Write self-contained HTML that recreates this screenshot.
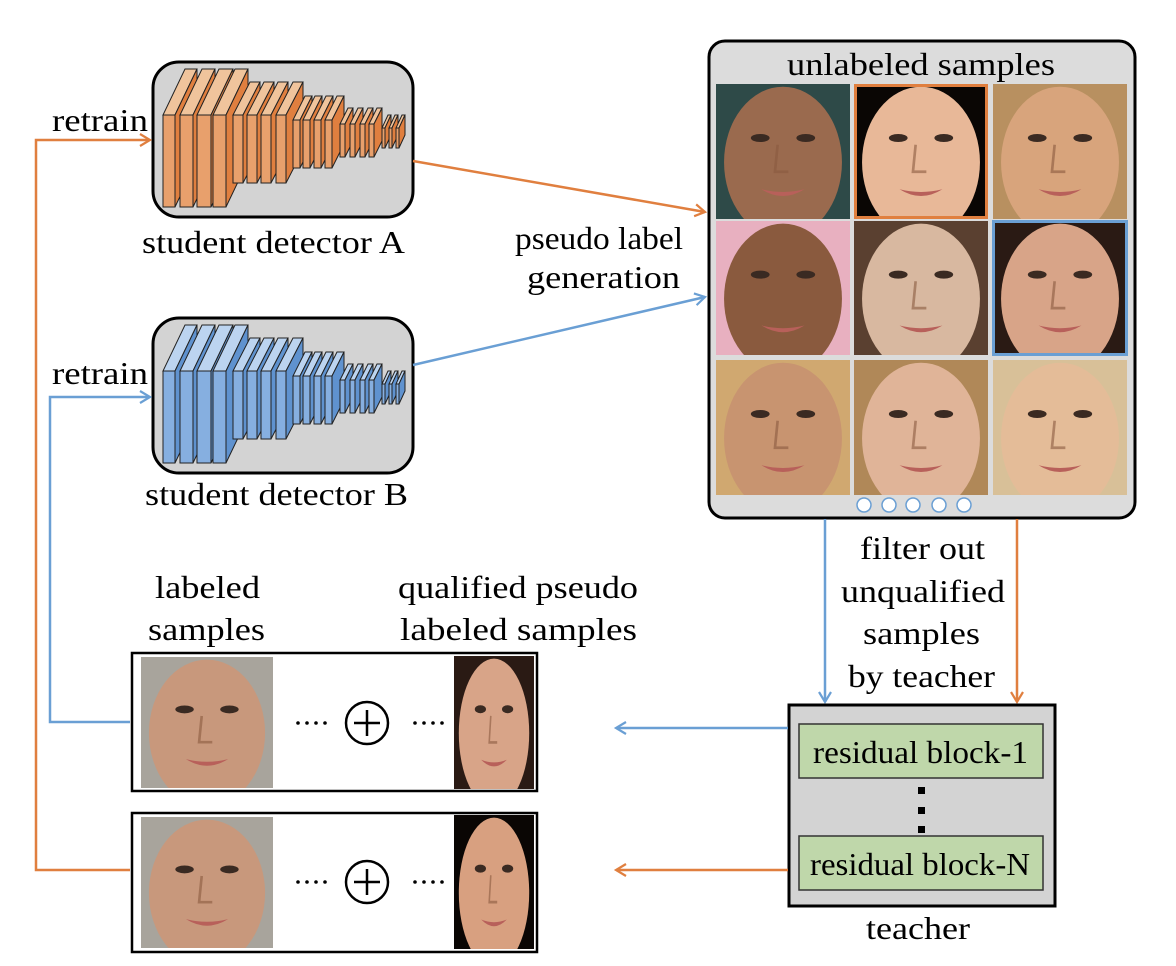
<!DOCTYPE html>
<html><head><meta charset="utf-8"><style>
body{margin:0;background:#fff}
svg{display:block}
.fr{fill:var(--fr);stroke:#222;stroke-width:1}
.tp{fill:var(--tp);stroke:#222;stroke-width:1}
.sd{fill:var(--sd);stroke:#222;stroke-width:1}
</style></head><body>
<svg width="1176" height="966" viewBox="0 0 1176 966" xmlns="http://www.w3.org/2000/svg" font-family="'Liberation Serif', 'DejaVu Serif', serif" font-size="32">
<defs>
<marker id="ao" markerWidth="14" markerHeight="14" refX="11" refY="7" orient="auto" markerUnits="userSpaceOnUse"><path d="M1,1 L11,7 L1,13" fill="none" stroke="#e07f3f" stroke-width="2.2"/></marker>
<marker id="ab" markerWidth="14" markerHeight="14" refX="11" refY="7" orient="auto" markerUnits="userSpaceOnUse"><path d="M1,1 L11,7 L1,13" fill="none" stroke="#6a9fd4" stroke-width="2.2"/></marker>
<symbol id="face" viewBox="0 0 100 100" preserveAspectRatio="none">
<rect width="100" height="100" fill="var(--bg)"/>
<ellipse cx="50" cy="58" rx="44" ry="56" fill="var(--sk)"/>
<ellipse cx="33" cy="40" rx="7" ry="3" fill="#3a2a22"/>
<ellipse cx="67" cy="40" rx="7" ry="3" fill="#3a2a22"/>
<path d="M46,45 L44,65 L54,65" fill="none" stroke="#8a5a40" stroke-width="2" opacity=".6"/>
<path d="M34,78 Q50,88 66,78 Q50,82 34,78Z" fill="#b8605a"/>
</symbol>
<g id="net">
<g><polygon class="tp" points="163,115 175,115 197,69 185,69"/><polygon class="sd" points="175,115 197,69 197,161 175,207"/><rect class="fr" x="163" y="115" width="12" height="92"/></g>
<g><polygon class="tp" points="180,115 193,115 215,69 202,69"/><polygon class="sd" points="193,115 215,69 215,161 193,207"/><rect class="fr" x="180" y="115" width="13" height="92"/></g>
<g><polygon class="tp" points="197,115 211,115 233,69 219,69"/><polygon class="sd" points="211,115 233,69 233,161 211,207"/><rect class="fr" x="197" y="115" width="14" height="92"/></g>
<g><polygon class="tp" points="213,115 226,115 248,69 235,69"/><polygon class="sd" points="226,115 248,69 248,161 226,207"/><rect class="fr" x="213" y="115" width="13" height="92"/></g>
<g><polygon class="tp" points="233,115 243,115 260,82 250,82"/><polygon class="sd" points="243,115 260,82 260,150 243,183"/><rect class="fr" x="233" y="115" width="10" height="68"/></g>
<g><polygon class="tp" points="247,115 257,115 274,82 264,82"/><polygon class="sd" points="257,115 274,82 274,150 257,183"/><rect class="fr" x="247" y="115" width="10" height="68"/></g>
<g><polygon class="tp" points="261,115 271,115 288,82 278,82"/><polygon class="sd" points="271,115 288,82 288,150 271,183"/><rect class="fr" x="261" y="115" width="10" height="68"/></g>
<g><polygon class="tp" points="276,115 286,115 303,82 293,82"/><polygon class="sd" points="286,115 303,82 303,150 286,183"/><rect class="fr" x="276" y="115" width="10" height="68"/></g>
<g><polygon class="tp" points="293,120 300,120 312,96 305,96"/><polygon class="sd" points="300,120 312,96 312,144 300,168"/><rect class="fr" x="293" y="120" width="7" height="48"/></g>
<g><polygon class="tp" points="303,120 310,120 322,96 315,96"/><polygon class="sd" points="310,120 322,96 322,144 310,168"/><rect class="fr" x="303" y="120" width="7" height="48"/></g>
<g><polygon class="tp" points="314,120 321,120 333,96 326,96"/><polygon class="sd" points="321,120 333,96 333,144 321,168"/><rect class="fr" x="314" y="120" width="7" height="48"/></g>
<g><polygon class="tp" points="325,120 332,120 344,96 337,96"/><polygon class="sd" points="332,120 344,96 344,144 332,168"/><rect class="fr" x="325" y="120" width="7" height="48"/></g>
<g><polygon class="tp" points="340,124 345,124 353,108 348,108"/><polygon class="sd" points="345,124 353,108 353,141 345,157"/><rect class="fr" x="340" y="124" width="5" height="33"/></g>
<g><polygon class="tp" points="350,124 355,124 363,108 358,108"/><polygon class="sd" points="355,124 363,108 363,141 355,157"/><rect class="fr" x="350" y="124" width="5" height="33"/></g>
<g><polygon class="tp" points="360,124 365,124 373,108 368,108"/><polygon class="sd" points="365,124 373,108 373,141 365,157"/><rect class="fr" x="360" y="124" width="5" height="33"/></g>
<g><polygon class="tp" points="369,124 374,124 382,108 377,108"/><polygon class="sd" points="374,124 382,108 382,141 374,157"/><rect class="fr" x="369" y="124" width="5" height="33"/></g>
<g><polygon class="tp" points="382,128 385,128 391,115 388,115"/><polygon class="sd" points="385,128 391,115 391,135 385,148"/><rect class="fr" x="382" y="128" width="3" height="20"/></g>
<g><polygon class="tp" points="389,128 392,128 398,115 395,115"/><polygon class="sd" points="392,128 398,115 398,135 392,148"/><rect class="fr" x="389" y="128" width="3" height="20"/></g>
<g><polygon class="tp" points="396,128 399,128 405,115 402,115"/><polygon class="sd" points="399,128 405,115 405,135 399,148"/><rect class="fr" x="396" y="128" width="3" height="20"/></g>
</g>
</defs>

<rect x="153" y="62" width="260" height="155" rx="26" fill="#d3d3d3" stroke="#000" stroke-width="3"/>
<g style="--fr:#e8a06c;--tp:#f0c49c;--sd:#e07f3f"><use href="#net"/></g>
<text x="142" y="253" textLength="263" lengthAdjust="spacingAndGlyphs">student detector A</text>
<text x="52" y="131" textLength="96" lengthAdjust="spacingAndGlyphs">retrain</text>

<rect x="153" y="318" width="260" height="155" rx="26" fill="#d3d3d3" stroke="#000" stroke-width="3"/>
<g style="--fr:#86afe0;--tp:#bcd4f0;--sd:#5f92cf"><use href="#net" y="256"/></g>
<text x="145" y="505" textLength="263" lengthAdjust="spacingAndGlyphs">student detector B</text>
<text x="52" y="384" textLength="96" lengthAdjust="spacingAndGlyphs">retrain</text>

<polyline points="130,870 36,870 36,140 150,140" fill="none" stroke="#e07f3f" stroke-width="2.5" marker-end="url(#ao)"/>
<polyline points="130,722 50,722 50,397 150,397" fill="none" stroke="#6a9fd4" stroke-width="2.5" marker-end="url(#ab)"/>

<line x1="413" y1="161" x2="705" y2="212" stroke="#e07f3f" stroke-width="2.5" marker-end="url(#ao)"/>
<line x1="413" y1="365" x2="705" y2="297" stroke="#6a9fd4" stroke-width="2.5" marker-end="url(#ab)"/>
<text x="515" y="249" textLength="168" lengthAdjust="spacingAndGlyphs">pseudo label</text>
<text x="527" y="288" textLength="153" lengthAdjust="spacingAndGlyphs">generation</text>

<rect x="709" y="41" width="426" height="477" rx="16" fill="#dcdcdc" stroke="#000" stroke-width="3"/>
<text x="787" y="75" textLength="268" lengthAdjust="spacingAndGlyphs">unlabeled samples</text>
<use href="#face" x="716" y="84" width="134" height="135" style="--bg:#2e4a48;--sk:#9a6a4e"/>
<use href="#face" x="854" y="84" width="134" height="135" style="--bg:#0a0604;--sk:#e8b898"/>
<rect x="855.5" y="85.5" width="131" height="132" fill="none" stroke="#e07f3f" stroke-width="3"/>
<use href="#face" x="993" y="84" width="134" height="135" style="--bg:#b89060;--sk:#d8a47c"/>
<use href="#face" x="716" y="221" width="134" height="134" style="--bg:#e8b0c0;--sk:#8a5a3e"/>
<use href="#face" x="854" y="221" width="134" height="134" style="--bg:#5a4030;--sk:#d8b8a0"/>
<use href="#face" x="993" y="221" width="134" height="134" style="--bg:#2a1a14;--sk:#d8a488"/>
<rect x="993.5" y="221.5" width="133" height="133" fill="none" stroke="#6a9fd4" stroke-width="3"/>
<use href="#face" x="716" y="360" width="134" height="135" style="--bg:#d0a870;--sk:#c89470"/>
<use href="#face" x="854" y="360" width="134" height="135" style="--bg:#b08858;--sk:#e0b498"/>
<use href="#face" x="993" y="360" width="134" height="135" style="--bg:#d8c098;--sk:#e4bc98"/>
<g fill="#fff" stroke="#6a9fd4" stroke-width="1.5">
<circle cx="864" cy="505" r="7"/><circle cx="889" cy="505" r="7"/><circle cx="913" cy="505" r="7"/><circle cx="939" cy="505" r="7"/><circle cx="964" cy="505" r="7"/>
</g>

<line x1="825" y1="519" x2="825" y2="702" stroke="#6a9fd4" stroke-width="2.5" marker-end="url(#ab)"/>
<line x1="1017" y1="519" x2="1017" y2="702" stroke="#e07f3f" stroke-width="2.5" marker-end="url(#ao)"/>
<text x="860" y="559" textLength="125" lengthAdjust="spacingAndGlyphs">filter out</text>
<text x="841" y="602" textLength="164" lengthAdjust="spacingAndGlyphs">unqualified</text>
<text x="863" y="644" textLength="117" lengthAdjust="spacingAndGlyphs">samples</text>
<text x="848" y="687" textLength="147" lengthAdjust="spacingAndGlyphs">by teacher</text>

<rect x="789" y="705" width="266" height="201" fill="#d3d3d3" stroke="#000" stroke-width="3"/>
<rect x="799" y="724" width="244" height="54" fill="#bfd7aa" stroke="#333" stroke-width="1.5"/>
<rect x="799" y="836" width="244" height="54" fill="#bfd7aa" stroke="#333" stroke-width="1.5"/>
<text x="813" y="763" textLength="215" lengthAdjust="spacingAndGlyphs">residual block-1</text>
<text x="810" y="875" textLength="220" lengthAdjust="spacingAndGlyphs">residual block-N</text>
<rect x="918" y="787" width="7" height="7"/><rect x="918" y="807" width="7" height="7"/><rect x="918" y="826" width="7" height="7"/>
<text x="866" y="939" textLength="104" lengthAdjust="spacingAndGlyphs">teacher</text>

<line x1="788" y1="728" x2="616" y2="728" stroke="#6a9fd4" stroke-width="2.5" marker-end="url(#ab)"/>
<line x1="788" y1="870" x2="616" y2="870" stroke="#e07f3f" stroke-width="2.5" marker-end="url(#ao)"/>

<text x="155" y="598" textLength="105" lengthAdjust="spacingAndGlyphs">labeled</text>
<text x="148" y="640" textLength="117" lengthAdjust="spacingAndGlyphs">samples</text>
<text x="398" y="598" textLength="240" lengthAdjust="spacingAndGlyphs">qualified pseudo</text>
<text x="400" y="640" textLength="237" lengthAdjust="spacingAndGlyphs">labeled samples</text>

<rect x="132" y="653" width="405" height="138" fill="#fff" stroke="#000" stroke-width="2.5"/>
<use href="#face" x="141" y="657" width="132" height="131" style="--bg:#a8a49c;--sk:#c8987c"/>
<use href="#face" x="454" y="656" width="80" height="133" style="--bg:#2a1a14;--sk:#d8a488"/>
<g fill="#000"><circle cx="298" cy="723" r="1.8"/><circle cx="307" cy="723" r="1.8"/><circle cx="316" cy="723" r="1.8"/><circle cx="325" cy="723" r="1.8"/>
<circle cx="415" cy="723" r="1.8"/><circle cx="424" cy="723" r="1.8"/><circle cx="433" cy="723" r="1.8"/><circle cx="442" cy="723" r="1.8"/></g>
<circle cx="367" cy="723" r="21" fill="none" stroke="#000" stroke-width="2.5"/>
<path d="M354,723 H380 M367,710 V736" stroke="#000" stroke-width="2.5"/>

<rect x="132" y="813" width="405" height="139" fill="#fff" stroke="#000" stroke-width="2.5"/>
<use href="#face" x="141" y="817" width="132" height="131" style="--bg:#a8a49c;--sk:#c8987c"/>
<use href="#face" x="454" y="815" width="80" height="134" style="--bg:#0a0604;--sk:#d8a080"/>
<g fill="#000"><circle cx="298" cy="882" r="1.8"/><circle cx="307" cy="882" r="1.8"/><circle cx="316" cy="882" r="1.8"/><circle cx="325" cy="882" r="1.8"/>
<circle cx="415" cy="882" r="1.8"/><circle cx="424" cy="882" r="1.8"/><circle cx="433" cy="882" r="1.8"/><circle cx="442" cy="882" r="1.8"/></g>
<circle cx="367" cy="882" r="21" fill="none" stroke="#000" stroke-width="2.5"/>
<path d="M354,882 H380 M367,869 V895" stroke="#000" stroke-width="2.5"/>
</svg>
</body></html>
